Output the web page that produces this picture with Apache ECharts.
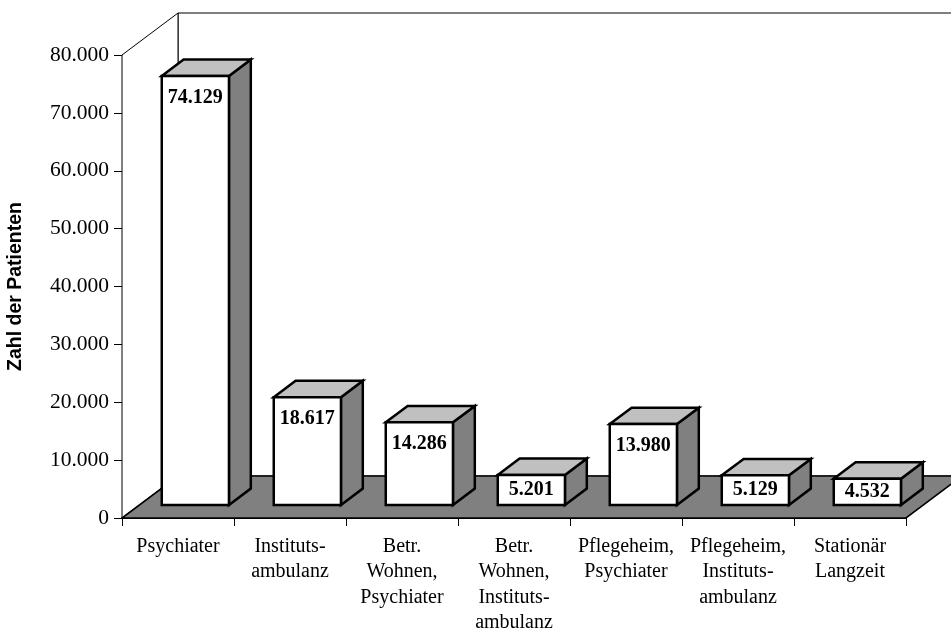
<!DOCTYPE html>
<html>
<head>
<meta charset="utf-8">
<script src="https://cdn.jsdelivr.net/npm/echarts@6/dist/echarts.min.js"></script>
<style>
  html, body { margin: 0; padding: 0; background: #ffffff; }
  #chart { width: 951px; height: 630px; }
</style>
</head>
<body>
<div id="chart"></div>
<script>
// Patients per care setting
const categories = [
  'Psychiater',
  'Instituts-\nambulanz',
  'Betr.\nWohnen,\nPsychiater',
  'Betr.\nWohnen,\nInstituts-\nambulanz',
  'Pflegeheim,\nPsychiater',
  'Pflegeheim,\nInstituts-\nambulanz',
  'Stationär\nLangzeit'
];
const patients = [74129, 18617, 14286, 5201, 13980, 5129, 4532];

// Value axis
const yMin = 0;
const yMax = 80000;
const yStep = 10000;
const axisTitle = 'Zahl der Patienten';

// German thousands separator: 74129 -> "74.129"
function fmt(v) {
  return String(Math.round(v)).replace(/\B(?=(\d{3})+(?!\d))/g, '.');
}

// Pseudo-3D layout, expressed relative to the category width
const DEPTH = 0.5;        // full floor depth (x shift) as a fraction of category width
const SLOPE = 0.75;       // vertical rise per unit of depth shift
const BAR_W = 0.6;        // bar width as a fraction of category width
const BAR_FRONT = 0.31;   // bar front face position within the depth
const BAR_DEPTH = 0.39;   // bar thickness within the depth

const SERIF = '"Liberation Serif", "Times New Roman", serif';
const SANS = '"Liberation Sans", Arial, sans-serif';

const chart = echarts.init(document.getElementById('chart'), null, { renderer: 'canvas' });

function renderWalls(params, api) {
  const cw = api.size([1, 0])[0];
  const dx = cw * DEPTH, dy = dx * SLOPE;
  const p0 = api.coord([0, yMin]);
  const pN = api.coord([categories.length - 1, yMin]);
  const pTop = api.coord([0, yMax]);
  const left = p0[0] - cw / 2;
  const right = pN[0] + cw / 2;
  const bottom = p0[1];
  const top = pTop[1];
  const line = { stroke: '#000', lineWidth: 1, fill: '#fff' };
  return {
    type: 'group',
    children: [
      { // back wall
        type: 'polygon',
        shape: { points: [[left + dx, top - dy], [right + dx, top - dy], [right + dx, bottom - dy], [left + dx, bottom - dy]] },
        style: line
      },
      { // side wall
        type: 'polygon',
        shape: { points: [[left, top], [left + dx, top - dy], [left + dx, bottom - dy], [left, bottom]] },
        style: line
      },
      { // floor
        type: 'polygon',
        shape: { points: [[left, bottom], [right, bottom], [right + dx, bottom - dy], [left + dx, bottom - dy]] },
        style: { fill: '#808080', stroke: '#000', lineWidth: 1.6, lineJoin: 'miter' }
      }
    ]
  };
}

function renderBar(params, api) {
  const idx = api.value(0);
  const val = api.value(1);
  const base = api.coord([idx, yMin]);
  const tip = api.coord([idx, val]);
  const cw = api.size([1, 0])[0];
  const dx = cw * DEPTH, dy = dx * SLOPE;
  const bw = cw * BAR_W;
  const ox = dx * BAR_FRONT, oy = dy * BAR_FRONT;
  const bx = dx * BAR_DEPTH, by = dy * BAR_DEPTH;
  const x0 = base[0] - bw / 2 + ox;
  const x1 = x0 + bw;
  const yb = base[1] - oy;
  const yt = tip[1] - oy;
  const h = yb - yt;
  const edge = { stroke: '#000', lineWidth: 2.5, lineJoin: 'miter' };
  return {
    type: 'group',
    children: [
      {
        type: 'polygon',
        shape: { points: [[x1, yt], [x1 + bx, yt - by], [x1 + bx, yb - by], [x1, yb]] },
        style: Object.assign({ fill: '#808080' }, edge)
      },
      {
        type: 'polygon',
        shape: { points: [[x0, yt], [x1, yt], [x1 + bx, yt - by], [x0 + bx, yt - by]] },
        style: Object.assign({ fill: '#c0c0c0' }, edge)
      },
      {
        type: 'rect',
        shape: { x: x0, y: yt, width: bw, height: h },
        style: Object.assign({ fill: '#ffffff' }, edge)
      },
      {
        type: 'text',
        x: (x0 + x1) / 2,
        y: yt + Math.min(20, h * 0.42) + 2,
        style: {
          text: fmt(val),
          fill: '#000',
          font: 'bold 20px ' + SERIF,
          align: 'center',
          verticalAlign: 'middle'
        }
      }
    ]
  };
}

chart.setOption({
  backgroundColor: '#ffffff',
  animation: false,
  grid: { left: 122, right: 45, top: 55, bottom: 112, containLabel: false, outerBoundsMode: 'none' },
  xAxis: {
    type: 'category',
    data: categories,
    boundaryGap: true,
    axisLine: { show: true, lineStyle: { color: '#000', width: 1 } },
    axisTick: { show: true, length: 8, alignWithLabel: false, lineStyle: { color: '#000', width: 1 } },
    axisLabel: {
      interval: 0,
      margin: 16,
      color: '#000',
      fontFamily: SERIF,
      fontSize: 20,
      lineHeight: 25.3,
      align: 'center',
      verticalAlign: 'top'
    },
    splitLine: { show: false }
  },
  yAxis: {
    type: 'value',
    min: yMin,
    max: yMax,
    interval: yStep,
    name: axisTitle,
    nameLocation: 'middle',
    nameRotate: 90,
    nameGap: 96,
    nameTextStyle: { color: '#000', fontFamily: SANS, fontWeight: 'bold', fontSize: 19.5 },
    axisLine: { show: true, lineStyle: { color: '#000', width: 1 } },
    axisTick: { show: true, length: 8, lineStyle: { color: '#000', width: 1 } },
    axisLabel: {
      margin: 13,
      color: '#000',
      fontFamily: SERIF,
      fontSize: 21.5,
      formatter: fmt
    },
    splitLine: { show: false }
  },
  series: [
    {
      type: 'custom',
      name: 'walls',
      clip: false,
      z: 1,
      silent: true,
      data: [[0, 0]],
      renderItem: renderWalls
    },
    {
      type: 'custom',
      name: axisTitle,
      clip: false,
      z: 2,
      data: patients.map((v, i) => [i, v]),
      encode: { x: 0, y: 1 },
      renderItem: renderBar
    }
  ]
});
</script>
</body>
</html>
